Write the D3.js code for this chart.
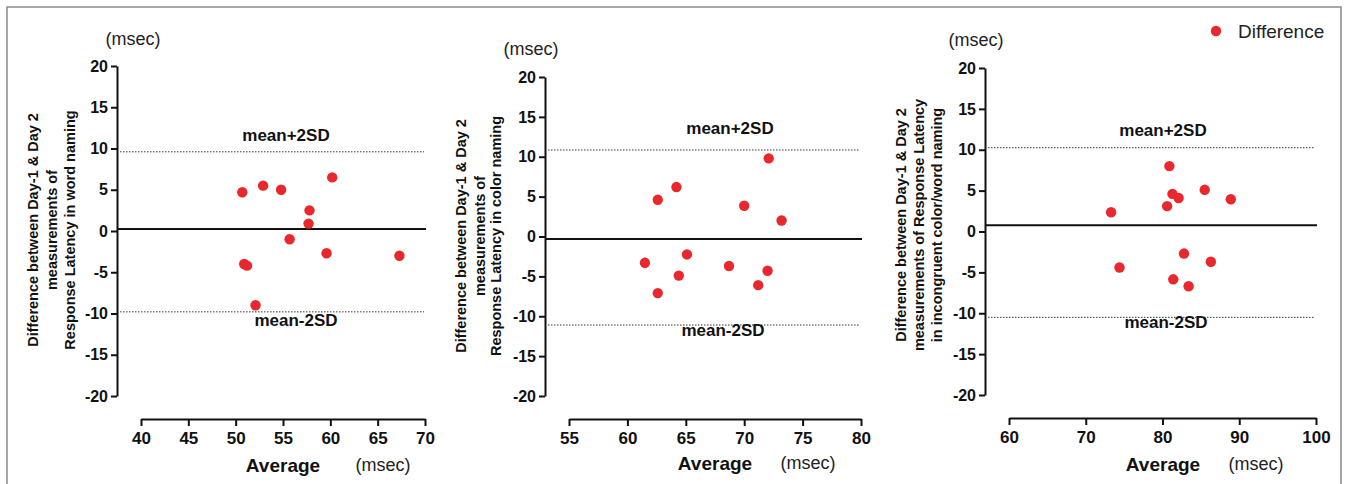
<!DOCTYPE html>
<html>
<head>
<meta charset="utf-8">
<script src="https://cdn.jsdelivr.net/npm/d3@7"></script>
<style>
  body { margin: 0; background: #fff; }
  svg { display: block; font-family: "Liberation Sans", Arial, sans-serif; }
  .tick text { font-weight: bold; font-size: 16px; fill: #111; }
  .domain, .tick line { stroke: #111; stroke-width: 2; }
</style>
</head>
<body>
<svg id="chart" width="1346" height="484"></svg>
<script>
// --- data (msec) ---
const wordAvg = [50.7, 52.9, 54.8, 60.2, 57.8, 57.7, 55.7, 59.6, 67.3, 50.9, 51.2, 52.1];
const wordDiff = [4.7, 5.5, 5.0, 6.5, 2.5, 0.9, -1.0, -2.7, -3.0, -4.0, -4.2, -9.0];
const wordLines = [0.25, 9.6, -9.8]; // mean, mean+2SD, mean-2SD

const colorAvg = [62.6, 64.2, 72.1, 70.0, 73.2, 61.5, 65.1, 64.4, 62.6, 68.7, 72.0, 71.2];
const colorDiff = [4.6, 6.2, 9.8, 3.85, 2.0, -3.3, -2.25, -4.9, -7.1, -3.7, -4.3, -6.1];
const colorLines = [-0.3, 10.85, -11.1];

const incongAvg = [80.9, 81.3, 82.1, 80.6, 85.5, 88.9, 73.3, 82.8, 86.3, 74.4, 81.4, 83.4];
const incongDiff = [8.0, 4.6, 4.1, 3.1, 5.1, 3.95, 2.35, -2.7, -3.7, -4.4, -5.85, -6.7];
const incongLines = [0.75, 10.25, -10.5];

const yTicks = [-20, -15, -10, -5, 0, 5, 10, 15, 20];
const wordXTicks = [40, 45, 50, 55, 60, 65, 70];
const colorXTicks = [55, 60, 65, 70, 75, 80];
const incongXTicks = [60, 70, 80, 90, 100];

const wordTitle = ["Difference between Day-1 & Day 2", "measurements of", "Response Latency in word naming"];
const colorTitle = ["Difference between Day-1 & Day 2", "measurements of", "Response Latency in color naming"];
const incongTitle = ["Difference between Day-1 & Day 2", "measurements of  Response Latency", "in incongruent color/word naming"];

const svg = d3.select("#chart");

// outer frame
svg.append("rect")
  .attr("x", 7).attr("y", 7)
  .attr("width", 1334).attr("height", 490)
  .attr("fill", "none").attr("stroke", "#8a8a8a").attr("stroke-width", 1.5);

// panel layout
const panels = [
  { avg: wordAvg, diff: wordDiff, lines: wordLines, xTicks: wordXTicks, title: wordTitle,
    axisX: 117, yTop: 66, yBot: 396, xAxisY: 419, xL: 141, xR: 425,
    titleX: [33, 52, 70], titleY: 230, msecTop: [133, 39],
    hiLab: [286, 135], loLab: [296, 320], avgLab: [283, 465], msecBot: [383, 465] },
  { avg: colorAvg, diff: colorDiff, lines: colorLines, xTicks: colorXTicks, title: colorTitle,
    axisX: 545, yTop: 77, yBot: 396, xAxisY: 419, xL: 569, xR: 861,
    titleX: [461, 480, 496], titleY: 236, msecTop: [531, 49],
    hiLab: [730, 128], loLab: [723, 330], avgLab: [715, 463], msecBot: [808, 463] },
  { avg: incongAvg, diff: incongDiff, lines: incongLines, xTicks: incongXTicks, title: incongTitle,
    axisX: 985, yTop: 68, yBot: 395, xAxisY: 418, xL: 1009, xR: 1316,
    titleX: [901, 919, 937], titleY: 225, msecTop: [976, 40],
    hiLab: [1163, 130], loLab: [1166, 322], avgLab: [1163, 464], msecBot: [1256, 464] }
];

panels.forEach((p) => {
  const x = d3.scaleLinear().domain(d3.extent(p.xTicks)).range([p.xL, p.xR]);
  const y = d3.scaleLinear().domain([-20, 20]).range([p.yBot, p.yTop]);

  svg.append("g")
    .attr("transform", `translate(${p.axisX},0)`)
    .call(d3.axisLeft(y).tickValues(yTicks).tickFormat((d) => String(d))
      .tickSize(6).tickSizeOuter(0).tickPadding(3));

  svg.append("g")
    .attr("transform", `translate(0,${p.xAxisY})`)
    .call(d3.axisBottom(x).tickValues(p.xTicks).tickSize(7).tickSizeOuter(0).tickPadding(6))
    .selectAll(".tick text").style("font-size", "17px");

  // mean line and limits
  svg.append("line")
    .attr("x1", p.axisX).attr("x2", p.xR + 1)
    .attr("y1", y(p.lines[0])).attr("y2", y(p.lines[0]))
    .attr("stroke", "#111").attr("stroke-width", 2);
  p.lines.slice(1).forEach((v) => {
    svg.append("line")
      .attr("x1", p.axisX + 3).attr("x2", p.xR - 1)
      .attr("y1", y(v)).attr("y2", y(v))
      .attr("stroke", "#333").attr("stroke-width", 1)
      .attr("stroke-dasharray", "1.5,1.5");
  });

  svg.append("g")
    .selectAll("circle")
    .data(p.avg.map((a, i) => [a, p.diff[i]]))
    .join("circle")
    .attr("cx", (d) => x(d[0]))
    .attr("cy", (d) => y(d[1]))
    .attr("r", 5.2)
    .attr("fill", "#e8282c");

  // labels
  const bold = (pos, txt, size) => svg.append("text")
    .attr("x", pos[0]).attr("y", pos[1]).attr("dy", "0.35em")
    .attr("text-anchor", "middle").attr("font-weight", "bold")
    .attr("font-size", size).attr("fill", "#111").text(txt);
  const plain = (pos, txt) => svg.append("text")
    .attr("x", pos[0]).attr("y", pos[1]).attr("dy", "0.35em")
    .attr("text-anchor", "middle").attr("font-size", 18)
    .attr("fill", "#222").text(txt);

  bold(p.hiLab, "mean+2SD", 17);
  bold(p.loLab, "mean-2SD", 17);
  bold(p.avgLab, "Average", 19);
  plain(p.msecTop, "(msec)");
  plain(p.msecBot, "(msec)");

  p.title.forEach((t, i) => {
    svg.append("text")
      .attr("transform", `translate(${p.titleX[i]},${p.titleY}) rotate(-90)`)
      .attr("dy", "0.35em")
      .attr("text-anchor", "middle").attr("font-weight", "bold")
      .attr("font-size", 14.5).attr("fill", "#111")
      .text(t);
  });
});

// legend
svg.append("circle").attr("cx", 1216).attr("cy", 31).attr("r", 5.2).attr("fill", "#e8282c");
svg.append("text").attr("x", 1238).attr("y", 31).attr("dy", "0.35em")
  .attr("font-size", 19).attr("fill", "#222").text("Difference");
</script>
</body>
</html>
